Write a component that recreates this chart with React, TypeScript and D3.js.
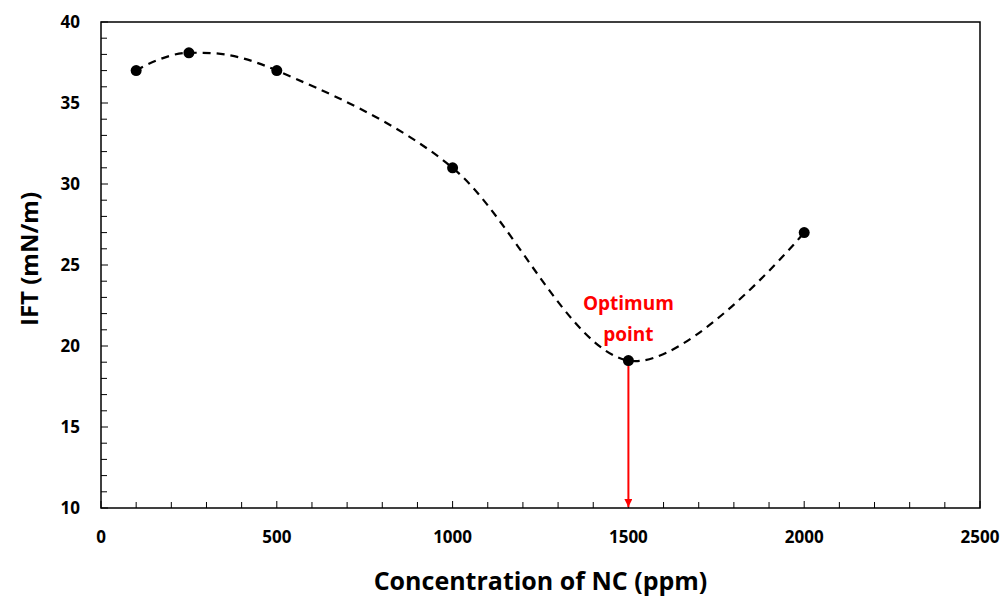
import React from 'react'
import * as d3 from 'd3'

const concentrations = [100, 250, 500, 1000, 1500, 2000]
const iftValues = [37, 38.1, 37, 31, 19.1, 27]
const xTicks = [0, 500, 1000, 1500, 2000, 2500]
const yTicks = [10, 15, 20, 25, 30, 35, 40]
const optimumX = 1500
const optimumY = 19.1

const W = 1003
const H = 597
const margin = { top: 22, right: 23, bottom: 89, left: 101 }
const font = '"Open Sans", Arial, sans-serif'

const App = () => {
  const x = d3.scaleLinear().domain([0, 2500]).range([margin.left, W - margin.right])
  const y = d3.scaleLinear().domain([10, 40]).range([H - margin.bottom, margin.top])

  const pts: [number, number][] = concentrations.map((c, i) => [x(c), y(iftValues[i])])
  const line = d3.line().curve(d3.curveCardinal.tension(0))(pts) || ''

  const xMinor = d3.range(0, 2501, 100)
  const yMinor = d3.range(10, 40.01, 1)
  const x0 = margin.left
  const x1 = W - margin.right
  const y0 = H - margin.bottom
  const y1 = margin.top

  return (
    <svg width={W} height={H} style={{ position: 'absolute', left: 0, top: 0 }}>
      <rect width={W} height={H} fill="#fff" />
      <defs>
        <marker id="arr" viewBox="0 0 10 10" refX="10" refY="5" markerWidth="4" markerHeight="4" orient="auto">
          <path d="M0,0 L10,5 L0,10 z" fill="#ff0000" />
        </marker>
      </defs>

      {/* ticks inside the frame */}
      {xMinor.map((t) => (
        <line key={'xt' + t} x1={x(t)} x2={x(t)} y1={y0} y2={y0 - (t % 500 === 0 ? 7 : 6)} stroke="#000" strokeWidth={1} />
      ))}
      {yMinor.map((t) => (
        <line key={'yt' + t} x1={x0} x2={x0 + (t % 5 === 0 ? 7 : 6)} y1={y(t)} y2={y(t)} stroke="#000" strokeWidth={1} />
      ))}

      <rect x={x0} y={y1} width={x1 - x0} height={y0 - y1} fill="none" stroke="#000" strokeWidth={1.5} />

      {xTicks.map((t) => (
        <text key={'xl' + t} x={x(t)} y={y0 + 35} textAnchor="middle" fontFamily={font} fontWeight="bold" fontSize={17}>
          {t}
        </text>
      ))}
      {yTicks.map((t) => (
        <text key={'yl' + t} x={x0 - 21} y={y(t) + 6} textAnchor="end" fontFamily={font} fontWeight="bold" fontSize={17}>
          {t}
        </text>
      ))}

      <path d={line} fill="none" stroke="#000" strokeWidth={2.2} strokeDasharray="8,6" />

      <line x1={x(optimumX)} x2={x(optimumX)} y1={y(optimumY)} y2={y(10) - 1} stroke="#ff0000" strokeWidth={2} markerEnd="url(#arr)" />

      {pts.map(([px, py], i) => (
        <circle key={'p' + i} cx={px} cy={py} r={5.5} fill="#000" />
      ))}

      <text x={x(optimumX)} y={y(optimumY) - 51} textAnchor="middle" fill="#ff0000" fontFamily={font} fontWeight="bold" fontSize={19}>
        Optimum
      </text>
      <text x={x(optimumX)} y={y(optimumY) - 20} textAnchor="middle" fill="#ff0000" fontFamily={font} fontWeight="bold" fontSize={19}>
        point
      </text>

      <text x={(x0 + x1) / 2} y={H - 7} textAnchor="middle" fontFamily={font} fontWeight="bold" fontSize={25}>
        Concentration of NC (ppm)
      </text>
      <text transform={`translate(38,${(y0 + y1) / 2 - 6}) rotate(-90)`} textAnchor="middle" fontFamily={font} fontWeight="bold" fontSize={24}>
        IFT (mN/m)
      </text>
    </svg>
  )
}

export default App
